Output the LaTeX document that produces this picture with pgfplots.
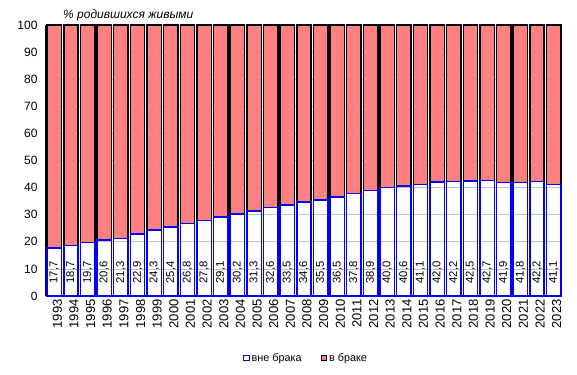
\documentclass[border=0pt]{standalone}
\usepackage{pgfplots}
\pgfplotsset{compat=1.18}
\usepackage{fontspec}
\setmainfont{Liberation Sans}
\definecolor{salmon}{HTML}{FF8080}
\definecolor{gridgray}{HTML}{C0C0C0}
\begin{document}
\begin{tikzpicture}
\useasboundingbox (-46bp,-79bp) rectangle (531bp,296bp);
\pgfplotsset{base/.style={scale only axis, width=516bp, height=271bp, at={(0,0)}, anchor=south west,
  xmin=-0.5, xmax=30.5, ymin=0, ymax=100}}
\begin{axis}[base, ybar stacked, bar width=14.4bp,
  axis x line*=bottom, axis y line*=left,
  axis line style={line width=1.8bp, black, -},
  ytick={0,10,...,100},
  xtick={0,...,30},
  xticklabels={1993,1994,1995,1996,1997,1998,1999,2000,2001,2002,2003,2004,2005,2006,2007,2008,2009,2010,2011,2012,2013,2014,2015,2016,2017,2018,2019,2020,2021,2022,2023},
  x tick label style={rotate=90, anchor=east, font=\fontsize{13bp}{14bp}\selectfont, yshift=-3bp},
  y tick label style={font=\fontsize{12bp}{13bp}\selectfont, xshift=-5bp},
  major tick length=0pt,
  ymajorgrids, grid style={gridgray, line width=0.8bp},
  /pgf/number format/assume math mode=true,
  legend image code/.code={\draw[#1, line width=0.9bp] (0bp,-2.8bp) rectangle (5.6bp,2.8bp);},
  legend style={at={(0.504,-0.229)}, anchor=center, legend columns=2, draw=none, fill=none,
    font=\fontsize{10.8bp}{12bp}\selectfont, nodes={inner xsep=2bp},
    /tikz/every even column/.append style={column sep=17bp}},
]
\addplot[fill=none, draw=blue, line width=1.5bp] coordinates {
(0,17.7) (1,18.7) (2,19.7) (3,20.6) (4,21.3) (5,22.9) (6,24.3) (7,25.4) (8,26.8) (9,27.8)
(10,29.1) (11,30.2) (12,31.3) (13,32.6) (14,33.5) (15,34.6) (16,35.5) (17,36.5) (18,37.8) (19,38.9)
(20,40.0) (21,40.6) (22,41.1) (23,42.0) (24,42.2) (25,42.5) (26,42.7) (27,41.9) (28,41.8) (29,42.2) (30,41.1)};
\addplot[fill=salmon, draw=black, line width=1.5bp] coordinates {
(0,82.3) (1,81.3) (2,80.3) (3,79.4) (4,78.7) (5,77.1) (6,75.7) (7,74.6) (8,73.2) (9,72.2)
(10,70.9) (11,69.8) (12,68.7) (13,67.4) (14,66.5) (15,65.4) (16,64.5) (17,63.5) (18,62.2) (19,61.1)
(20,60.0) (21,59.4) (22,58.9) (23,58.0) (24,57.8) (25,57.5) (26,57.3) (27,58.1) (28,58.2) (29,57.8) (30,58.9)};
\legend{вне брака, в браке}
\end{axis}
\begin{axis}[base, hide axis,
  /pgf/number format/assume math mode=true]
\addplot[draw=none, mark=none, point meta=explicit,
  nodes near coords={\pgfmathprintnumber[fixed,fixed zerofill,precision=1,use comma]{\pgfplotspointmeta}},
  every node near coord/.style={rotate=90, anchor=west, inner sep=0pt, black, font=\fontsize{11.3bp}{12bp}\selectfont}]
coordinates {
(0,4.6) [17.7] (1,4.6) [18.7] (2,4.6) [19.7] (3,4.6) [20.6] (4,4.6) [21.3] (5,4.6) [22.9] (6,4.6) [24.3] (7,4.6) [25.4] (8,4.6) [26.8] (9,4.6) [27.8]
(10,4.6) [29.1] (11,4.6) [30.2] (12,4.6) [31.3] (13,4.6) [32.6] (14,4.6) [33.5] (15,4.6) [34.6] (16,4.6) [35.5] (17,4.6) [36.5] (18,4.6) [37.8] (19,4.6) [38.9]
(20,4.6) [40.0] (21,4.6) [40.6] (22,4.6) [41.1] (23,4.6) [42.0] (24,4.6) [42.2] (25,4.6) [42.5] (26,4.6) [42.7] (27,4.6) [41.9] (28,4.6) [41.8] (29,4.6) [42.2] (30,4.6) [41.1]};
\end{axis}
\node[anchor=west, inner sep=0pt, font=\fontsize{12bp}{13bp}\selectfont\itshape] at (17bp,281bp) {\% родившихся живыми};
\end{tikzpicture}
\end{document}
